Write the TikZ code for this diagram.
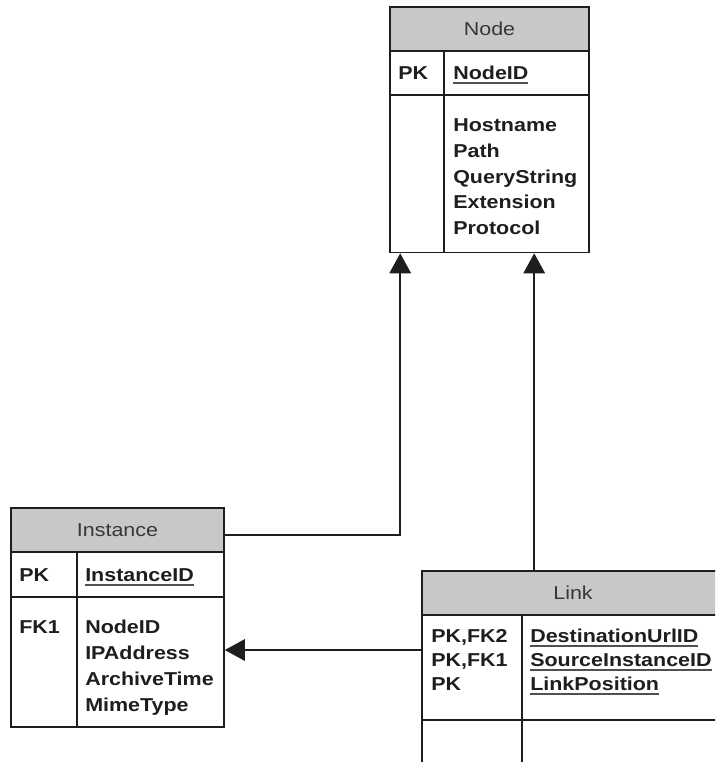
\documentclass[tikz,border=0pt]{standalone}
\usepackage{fontspec}
\setmainfont{Liberation Sans}[FakeStretch=1.15]
\usetikzlibrary{arrows.meta,fit,calc}
\definecolor{hdr}{RGB}{200,200,200}
\definecolor{ink}{RGB}{30,30,30}
\definecolor{hdrtxt}{RGB}{55,55,55}
\definecolor{ulc}{RGB}{80,80,80}
\newcommand{\fsz}{\fontsize{14pt}{16pt}\selectfont}
\newcommand{\ulx}[1]{\setbox0\hbox{#1}\rlap{\textcolor{ulc}{\rule[-3pt]{\wd0}{1.3pt}}}\box0}
\begin{document}
\begin{tikzpicture}[x=0.75pt,y=-0.75pt,
  box/.style={draw=ink,line width=1.2pt,inner sep=0pt},
  hbox/.style={box,fill=hdr},
  sep/.style={draw=ink,line width=1.2pt},
  htext/.style={font=\fsz,text=hdrtxt,inner sep=0pt},
  fld/.style={anchor=base west,inner sep=0pt,font=\fsz\bfseries,text=ink},
  conn/.style={draw=ink,line width=1.5pt,-{Triangle[length=15pt,width=16pt]}},
  ]
\useasboundingbox[fill=white] (0,0) rectangle (715,762);
\clip (0,0) rectangle (715,762);

% ---------- Node table ----------
\node[box,fit={(390,7)(589,252.5)}] (nodeT) {};
\node[hbox,fit={(390,7)(589,51)}] (nodeH) {};
\node[htext] (nodeHt) at (489.5,29) {Node};
\draw[sep] (nodeT.west |- 0,95) -- (nodeT.east |- 0,95);
\draw[sep] (444,51) -- (nodeT.south -| 444,0);
\node[fld] (nodePK) at (398,79.7) {PK};
\node[fld] (nodeF0) at (453,79.7) {\ulx{NodeID}};
\node[fld] (nodeF1) at (453,131.7) {Hostname};
\node[fld] (nodeF2) at (453,157.4) {Path};
\node[fld] (nodeF3) at (453,183.1) {QueryString};
\node[fld] (nodeF4) at (453,208.8) {Extension};
\node[fld] (nodeF5) at (453,234.5) {Protocol};

% ---------- Instance table ----------
\node[box,fit={(11,508)(224,727)}] (instT) {};
\node[hbox,fit={(11,508)(224,552)}] (instH) {};
\node[htext] (instHt) at (117.5,530) {Instance};
\draw[sep] (instT.west |- 0,597) -- (instT.east |- 0,597);
\draw[sep] (77,552) -- (instT.south -| 77,0);
\node[fld] (instPK) at (19,581.7) {PK};
\node[fld] (instF0) at (85,581.7) {\ulx{InstanceID}};
\node[fld] (instFK) at (19,633.7) {FK1};
\node[fld] (instF1) at (85,633.7) {NodeID};
\node[fld] (instF2) at (85,659.7) {IPAddress};
\node[fld] (instF3) at (85,685.7) {ArchiveTime};
\node[fld] (instF4) at (85,711.7) {MimeType};

% ---------- Link table ----------
\node[box,fit={(422,571)(724,790)}] (linkT) {};
\node[hbox,fit={(422,571)(724,615)}] (linkH) {};
\node[htext] (linkHt) at (573,593) {Link};
\draw[sep] (linkT.west |- 0,720) -- (linkT.east |- 0,720);
\draw[sep] (522,615) -- (linkT.south -| 522,0);
\node[fld] (linkK1) at (431,642.7) {PK,FK2};
\node[fld] (linkK2) at (431,666.7) {PK,FK1};
\node[fld] (linkK3) at (431,690.7) {PK};
\node[fld] (linkF1) at (530,642.7) {\ulx{DestinationUrlID}};
\node[fld] (linkF2) at (530,666.7) {\ulx{SourceInstanceID}};
\node[fld] (linkF3) at (530,690.7) {\ulx{LinkPosition}};

% ---------- connectors ----------
\coordinate (r3) at (0,650);
\draw[conn] ([yshift=-3.75pt]instH.east) -| ($(nodeT.south west)+(11,0)$);
\draw[conn] ($(linkH.north west)+(113,0)$) -- ($(nodeT.south west)+(145,0)$);
\draw[conn] (linkT.west |- r3) -- (instT.east |- r3);
\end{tikzpicture}
\end{document}
